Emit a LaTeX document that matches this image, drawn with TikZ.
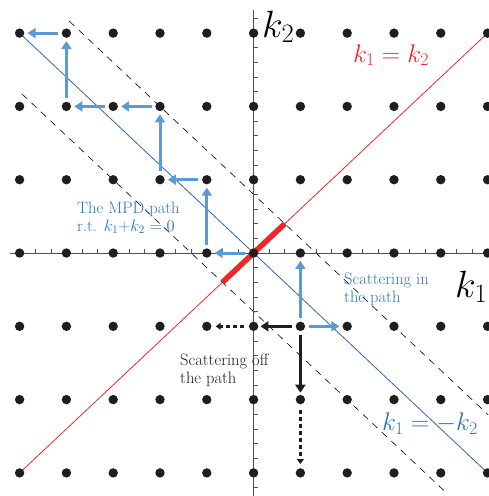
\RequirePackage{fix-cm}
\documentclass[tikz,border=0pt]{standalone}
\usepackage{fontspec}
\usetikzlibrary{arrows.meta,backgrounds}
\definecolor{hopblue}{RGB}{91,155,213}
\definecolor{noteblue}{RGB}{46,117,182}
\definecolor{mpdblue}{RGB}{47,102,190}
\definecolor{diagred}{RGB}{238,40,40}
\definecolor{dotblack}{RGB}{30,30,30}
\definecolor{axisgray}{RGB}{80,80,80}
\newcommand{\twolines}[2]{\begin{tabular}[t]{@{}l@{}}#1\\#2\end{tabular}}
\tikzset{
    dot/.style={circle,fill=dotblack,inner sep=0pt,minimum size=9.4pt},
    hop/.style={hopblue,line width=3pt,-{Triangle[length=8pt,width=10pt]},shorten <=3.5pt,shorten >=3pt},
    offhop/.style={dotblack,line width=3pt,-{Triangle[length=8pt,width=10pt]},shorten <=3.5pt,shorten >=2pt},
    tryhop/.style={dotblack,line width=2.5pt,dash pattern=on 4pt off 3pt,-{Triangle[length=5pt,width=7pt]},shorten <=5pt,shorten >=4pt},
    guide/.style={black,line width=0.6pt,dash pattern=on 7pt off 6pt},
    remark/.style={font=\fontsize{16.5}{18}\selectfont,inner sep=0pt,anchor=base west},
    eqlabel/.style={font=\fontsize{25.5}{27}\selectfont,inner sep=0pt,anchor=base west},
    axlabel/.style={font=\fontsize{38}{40}\selectfont,inner sep=0pt,anchor=base west}
}
\begin{document}
\begin{tikzpicture}[x=46.8pt,y=73.3pt]
    \useasboundingbox (-5.419,-3.315) rectangle (5.009,3.452);
    % axes
    \draw[axisgray,line width=0.8pt] (-5.21,0) -- (5.01,0);
    \draw[axisgray,line width=0.8pt] (0,-3.315) -- (0,3.315);
    \foreach \t in {-15,...,15}
        \draw[axisgray,line width=0.6pt] (\t/3,0) -- ++(0,4pt);
    \foreach \t in {-16,...,16}
        \draw[axisgray,line width=0.6pt] (0,\t/5) -- ++(4pt,0);
    % lattice of states
    \foreach \i in {-5,...,5}
        \foreach \j in {-3,...,3}
            \node[dot] (d\i\j) at (\i,\j) {};
    % diagonals and the strip round k1=-k2
    \begin{scope}[on background layer]
        \draw[diagred,line width=0.8pt] (d-5-3.center) -- (d53.center);
        \draw[mpdblue,line width=0.8pt] (d-53.center) -- (d5-3.center);
        \coordinate (gu1) at (-3.94,3.164);
        \coordinate (gu2) at (5.01,-2.206);
        \coordinate (gl1) at (-4.95,2.17);
        \coordinate (gl2) at (4.06,-3.236);
        \draw[guide] (gu1) -- (gu2);
        \draw[guide] (gl1) -- (gl2);
        \coordinate (cut1) at (-0.667,-0.4);
        \coordinate (cut2) at (0.667,0.4);
        \draw[diagred,line width=5.5pt] (cut1) -- (cut2);
    \end{scope}
    % MPD path
    \foreach \a/\b in {00/-10,-10/-11,-11/-21,-21/-22,-22/-32,-32/-42,-42/-43,-43/-53}
        \draw[hop] (d\a) -- (d\b);
    % scattering from (1,-1)
    \draw[hop] (d1-1) -- (d10);
    \draw[hop] (d1-1) -- (d2-1);
    \draw[offhop] (d1-1) -- (d0-1);
    \draw[offhop] (d1-1) -- (d1-2);
    \draw[tryhop] (d0-1) -- (d-1-1);
    \draw[tryhop] (d1-2) -- (d1-3);
    % labels
    \node[remark,noteblue] (mpd) at (-3.774,0.546) {\twolines{The MPD path}{r.t. $k_1$+$k_2 = 0$}};
    \node[remark,noteblue] (inpath) at (1.932,-0.423) {\twolines{Scattering in}{the path}};
    \node[remark,dotblack] (offpath) at (-1.573,-1.528) {\twolines{Scattering off}{the path}};
    \node[eqlabel,diagred] (eqred) at (2.124,2.606) {$k_1 = k_2$};
    \node[eqlabel,noteblue] (eqblue) at (2.744,-2.428) {$k_1 = -k_2$};
    \node[axlabel] (kx) at (4.303,-0.600) {$k_1$};
    \node[axlabel] (ky) at (0.18,2.947) {$k_2$};
\end{tikzpicture}
\end{document}
